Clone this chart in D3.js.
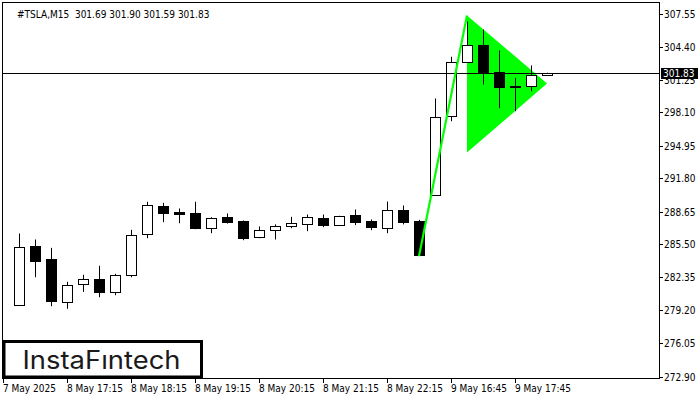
<!DOCTYPE html>
<html><head><meta charset="utf-8">
<script src="https://cdn.jsdelivr.net/npm/d3@7"></script>
<style>
html,body{margin:0;padding:0;background:#fff;}
svg{display:block;}
.ax{font-family:"DejaVu Sans Condensed","DejaVu Sans",sans-serif;font-stretch:condensed;font-size:10px;fill:#000;white-space:pre;}
</style></head>
<body>
<svg id="c" width="700" height="400"></svg>
<script>
// ---- data ----
const times = ["8 May 16:30","8 May 16:45","8 May 17:00","8 May 17:15","8 May 17:30","8 May 17:45","8 May 18:00","8 May 18:15",
  "8 May 18:30","8 May 18:45","8 May 19:00","8 May 19:15","8 May 19:30","8 May 19:45","8 May 20:00","8 May 20:15",
  "8 May 20:30","8 May 20:45","8 May 21:00","8 May 21:15","8 May 21:30","8 May 21:45","8 May 22:00","8 May 22:15",
  "8 May 22:30","8 May 22:45","9 May 16:30","9 May 16:45","9 May 17:00","9 May 17:15","9 May 17:30","9 May 17:45",
  "9 May 18:00","9 May 18:15"];
const opens  = [279.71,285.40,284.07,280.03,281.75,282.23,280.98,282.61,286.52,289.22,288.62,288.46,287.09,288.17,287.70,286.20,
  286.90,287.26,287.48,288.05,287.38,288.27,287.70,287.06,288.84,287.79,290.21,297.75,302.94,304.59,302.01,300.65,300.65,301.69];
const highs  = [286.55,285.98,285.18,281.94,282.61,283.47,282.70,286.90,289.58,289.48,288.94,289.58,288.10,288.46,287.79,287.22,
  287.42,288.14,288.36,288.36,288.24,288.84,287.89,289.60,289.22,287.85,299.44,303.42,306.79,306.02,304.02,301.41,302.59,301.90];
const lows   = [279.71,282.38,279.61,279.36,280.98,280.47,280.66,282.38,286.10,287.63,287.53,286.96,286.58,287.50,285.91,286.10,
  285.98,287.06,286.77,287.15,287.38,287.35,286.87,286.58,287.42,284.45,290.21,297.27,302.94,300.77,298.51,298.22,300.13,301.59];
const closes = [285.28,283.91,280.09,281.61,282.23,280.98,282.61,286.43,289.29,288.49,288.39,287.06,288.05,287.63,286.10,286.90,
  287.26,287.57,288.14,287.35,288.24,287.63,287.15,288.81,287.63,284.48,297.69,302.94,304.56,301.89,300.51,300.50,301.70,301.83];

const yTickVals = [307.55,304.40,301.25,298.10,294.95,291.80,288.65,285.50,282.35,279.20,276.05,272.90];
const xTickIdx = [-1,3,7,11,15,19,23,27,31];
const xTickLabels = ["7 May 2025","8 May 17:15","8 May 18:15","8 May 19:15","8 May 20:15","8 May 21:15","8 May 22:15","9 May 16:45","9 May 17:45"];

const symbol = "#TSLA,M15";
const lastPrice = 301.83;
// bullish pennant: flagpole and triangle (bar index, price)
const poleIdx = [25, 28];
const polePrice = [284.38, 307.36];
const triIdx = [28, 28, 33];
const triPrice = [307.36, 294.28, 300.87];

// ---- chart ----
const svg = d3.select("#c");
const x = d3.scaleLinear().domain([0, 33]).range([19, 547]);
const y = d3.scaleLinear().domain([272.90, 307.55]).range([376.5, 13.5]);
const green = "#00ff00";

// frame
svg.append("rect").attr("x",2.5).attr("y",2.5).attr("width",657).attr("height",376)
  .attr("fill","#fff").attr("stroke","#000").attr("stroke-width",1);

// triangle
svg.append("path")
  .attr("d", d3.line()(triIdx.map((d,i)=>[x(d), y(triPrice[i])])) + "Z")
  .attr("fill", green).attr("stroke","none");

// candles
const data = times.map((t,i)=>({t, o:opens[i], h:highs[i], l:lows[i], c:closes[i], i}));
const g = svg.append("g");
data.forEach(d=>{
  const cx = Math.round(x(d.i));
  g.append("line").attr("x1",cx+0.5).attr("x2",cx+0.5)
    .attr("y1",y(d.h)).attr("y2",y(d.l)).attr("stroke","#000").attr("stroke-width",1);
  const top = Math.round(y(Math.max(d.o,d.c)));
  const bot = Math.round(y(Math.min(d.o,d.c)));
  const bull = d.c >= d.o;
  g.append("rect").attr("x",cx-4.5).attr("y",top+0.5)
    .attr("width",10).attr("height",Math.max(bot-top,1))
    .attr("fill", bull ? "#fff" : "#000").attr("stroke","#000").attr("stroke-width",1);
});

// last price line
const ly = Math.round(y(lastPrice)) + 0.5;
svg.append("line").attr("x1",2.5).attr("x2",659.5).attr("y1",ly).attr("y2",ly)
  .attr("stroke","#000").attr("stroke-width",1);

// flagpole
svg.append("path")
  .attr("d", d3.line()(poleIdx.map((d,i)=>[x(d), y(polePrice[i])])))
  .attr("stroke", green).attr("stroke-width",2.2).attr("fill","none");

// y axis
const ya = svg.append("g");
yTickVals.forEach(v=>{
  const ty = Math.round(y(v)) + 0.5;
  ya.append("line").attr("x1",659.5).attr("x2",663).attr("y1",ty).attr("y2",ty).attr("stroke","#000");
  ya.append("text").attr("class","ax").attr("x",664).attr("y",ty).attr("dy","0.36em").text(v.toFixed(2));
});
// price box
svg.append("rect").attr("x",661).attr("y",ly-5.5).attr("width",37).attr("height",11).attr("fill","#000");
svg.append("text").attr("class","ax").attr("x",663).attr("y",ly).attr("dy","0.36em")
  .attr("fill","#fff").style("fill","#fff").text(lastPrice.toFixed(2));

// x axis
const xa = svg.append("g");
xTickIdx.forEach((idx,k)=>{
  const tx = Math.round(x(idx)) + 0.5;
  xa.append("line").attr("x1",tx).attr("x2",tx).attr("y1",378.5).attr("y2",383).attr("stroke","#000");
  xa.append("text").attr("class","ax").attr("x",tx-0.5).attr("y",392).text(xTickLabels[k]);
});

// title
svg.append("text").attr("class","ax").attr("x",17).attr("y",18).attr("xml:space","preserve")
  .text(symbol + "  " + [opens[33],highs[33],lows[33],closes[33]].map(v=>v.toFixed(2)).join(" "));

// logo
svg.append("rect").attr("x",4).attr("y",341.5).attr("width",197.5).attr("height",35.5)
  .attr("fill","#fff").attr("stroke","#000").attr("stroke-width",3);
svg.append("text").attr("x",22.5).attr("y",368.5)
  .attr("font-family","Inter, 'Open Sans', sans-serif").attr("font-size",25).attr("font-weight",400)
  .attr("fill","#1a1a1a").attr("textLength",158).attr("lengthAdjust","spacingAndGlyphs")
  .text("InstaFıntech");
</script>
</body></html>
